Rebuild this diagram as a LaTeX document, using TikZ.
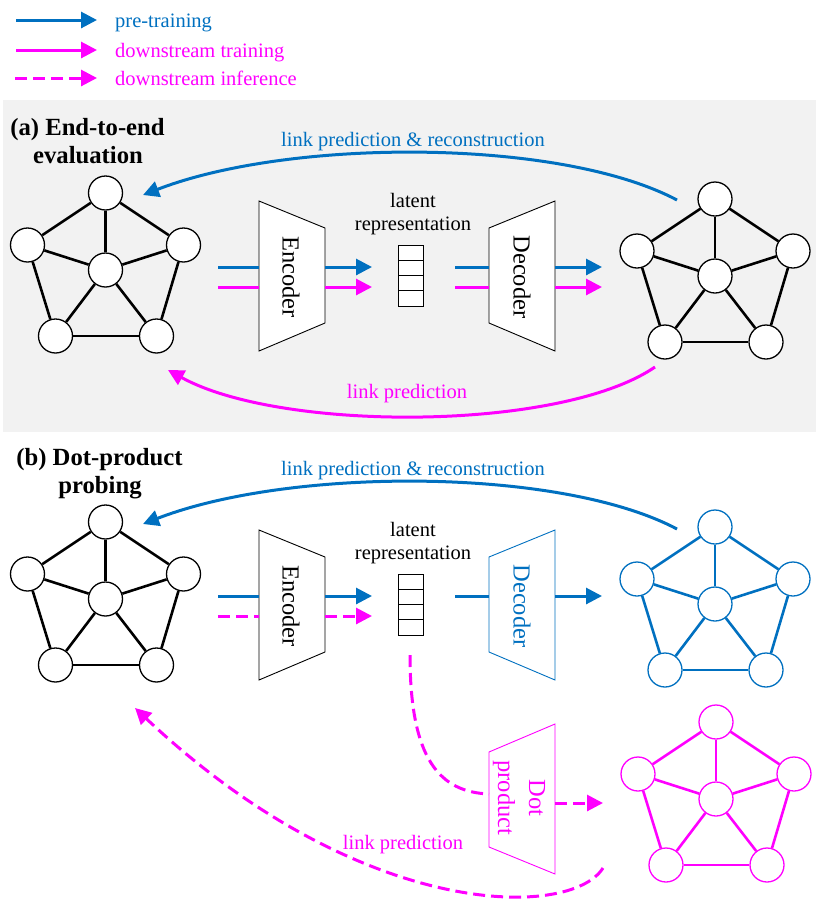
\documentclass[tikz,border=0pt]{standalone}
\usepackage{fontspec}
\setmainfont{Liberation Serif}
\usetikzlibrary{arrows.meta}
\definecolor{pblue}{RGB}{0,112,192}
\definecolor{pmag}{RGB}{255,0,255}
\definecolor{bggray}{RGB}{242,242,242}
\tikzset{
 gnode/.style={circle,draw,fill=white,minimum size=34pt,inner sep=0pt,line width=1.3pt},
 gedge/.style={line width=2.6pt},
 flow/.style={line width=3pt},
 tipflow/.style={flow,-{Triangle[length=16pt,width=16pt]}},
 dashflow/.style={dash pattern=on 12pt off 6pt},
 lbl/.style={font=\fontsize{20.5}{24}\selectfont, inner sep=0pt, anchor=base},
 ttl/.style={font=\fontsize{24.7}{28}\selectfont\bfseries, inner sep=0pt, anchor=base},
 boxtxt/.style={font=\fontsize{24.5}{29}\selectfont, inner sep=0pt, rotate=-90},
 trap/.style={draw, fill=white, line width=0.9pt},
}
\newcommand\drawgraph[4]{%
 \begin{scope}[shift={(#2,#3)}]
  \node[gnode,draw=#4] (#1t) at (0,0) {};
  \node[gnode,draw=#4] (#1l) at (-78,52) {};
  \node[gnode,draw=#4] (#1r) at (78,52) {};
  \node[gnode,draw=#4] (#1c) at (0,77) {};
  \node[gnode,draw=#4] (#1bl) at (-50,143) {};
  \node[gnode,draw=#4] (#1br) at (51,143) {};
  \draw[gedge,#4] (#1t) -- (#1l);
  \draw[gedge,#4] (#1t) -- (#1r);
  \draw[gedge,#4] (#1t) -- (#1c);
  \draw[gedge,#4] (#1l) -- (#1c);
  \draw[gedge,#4] (#1r) -- (#1c);
  \draw[gedge,#4] (#1l) -- (#1bl);
  \draw[gedge,#4] (#1r) -- (#1br);
  \draw[gedge,#4] (#1c) -- (#1bl);
  \draw[gedge,#4] (#1c) -- (#1br);
  \draw[gedge,#4] (#1bl) -- (#1br);
 \end{scope}}
\begin{document}
\begin{tikzpicture}[x=1pt,y=-1pt]
\useasboundingbox (0,0) rectangle (819,903);
\fill[bggray] (3,100) rectangle (816,432);

% legend
\coordinate (lg1a) at (16,20); \coordinate (lg1b) at (97,20);
\coordinate (lg2a) at (16,50); \coordinate (lg2b) at (97,50);
\coordinate (lg3a) at (15,78); \coordinate (lg3b) at (97,78);
\draw[tipflow,pblue] (lg1a) -- (lg1b);
\draw[tipflow,pmag] (lg2a) -- (lg2b);
\draw[tipflow,pmag,dashflow] (lg3a) -- (lg3b);
\node[lbl,anchor=base west,text=pblue] (lgt1) at (115,27) {pre-training};
\node[lbl,anchor=base west,text=pmag] (lgt2) at (115,57) {downstream training};
\node[lbl,anchor=base west,text=pmag] (lgt3) at (115,85) {downstream inference};

% ===== (a) =====
\node[ttl] (ta1) at (87.5,135) {(a) End-to-end};
\node[ttl] (ta2) at (88,163) {evaluation};

\drawgraph{al}{105.5}{193}{black}
\drawgraph{ar}{715}{199}{black}

% encoder
\draw[trap] (259,201) -- (325,228) -- (325,323) -- (259,351) -- cycle;
\node[boxtxt] (encA) at (291,277) {Encoder};
% decoder
\draw[trap] (489,228) -- (555,201) -- (555,351) -- (489,323) -- cycle;
\node[boxtxt] (decA) at (522,277) {Decoder};
% latent
\draw[line width=0.9pt,fill=white] (398,245) rectangle (423,306);
\draw[line width=0.9pt] (398,260.25) -- (423,260.25) (398,275.5) -- (423,275.5) (398,290.75) -- (423,290.75);
\node[lbl] (latA1) at (413,207) {latent};
\node[lbl] (latA2) at (413,230) {representation};

\coordinate (a1s) at (218,267); \coordinate (a1e) at (259,267);
\coordinate (a2s) at (325,267); \coordinate (a2e) at (372,267);
\coordinate (a3s) at (455,267); \coordinate (a3e) at (489,267);
\coordinate (a4s) at (555,267); \coordinate (a4e) at (602,267);
\coordinate (m1s) at (218,287); \coordinate (m1e) at (259,287);
\coordinate (m2s) at (325,287); \coordinate (m2e) at (372,287);
\coordinate (m3s) at (455,287); \coordinate (m3e) at (489,287);
\coordinate (m4s) at (555,287); \coordinate (m4e) at (602,287);
\draw[flow,pblue] (a1s) -- (a1e);
\draw[tipflow,pblue] (a2s) -- (a2e);
\draw[flow,pblue] (a3s) -- (a3e);
\draw[tipflow,pblue] (a4s) -- (a4e);
\draw[flow,pmag] (m1s) -- (m1e);
\draw[tipflow,pmag] (m2s) -- (m2e);
\draw[flow,pmag] (m3s) -- (m3e);
\draw[tipflow,pmag] (m4s) -- (m4e);

\coordinate (arcA1s) at (677,200); \coordinate (arcA1e) at (143,195);
\draw[tipflow,pblue] (arcA1s) .. controls (560,138) and (290,138) .. (arcA1e);
\node[lbl,text=pblue] (lpA1) at (413,146) {link prediction \& reconstruction};
\coordinate (arcA2s) at (655,367); \coordinate (arcA2e) at (168,370);
\draw[tipflow,pmag] (arcA2s) .. controls (560,432) and (280,432) .. (arcA2e);
\node[lbl,text=pmag] (lpA2) at (407,398) {link prediction};

% ===== (b) =====
\node[ttl] (tb1) at (99.5,465) {(b) Dot-product};
\node[ttl] (tb2) at (100,493) {probing};

\drawgraph{bl}{105.5}{522}{black}
\drawgraph{bb}{715}{527}{pblue}
\drawgraph{bm}{716}{722}{pmag}

\draw[trap] (259,530) -- (325,557) -- (325,652) -- (259,680) -- cycle;
\node[boxtxt] (encB) at (291,606) {Encoder};
\draw[trap,draw=pblue] (489,557) -- (555,530) -- (555,680) -- (489,652) -- cycle;
\node[boxtxt,text=pblue] (decB) at (522,606) {Decoder};
\draw[line width=0.9pt,fill=white] (398,574) rectangle (423,635);
\draw[line width=0.9pt] (398,589.25) -- (423,589.25) (398,604.5) -- (423,604.5) (398,619.75) -- (423,619.75);
\node[lbl] (latB1) at (413,536) {latent};
\node[lbl] (latB2) at (413,559) {representation};

% dot product
\draw[trap,draw=pmag] (489,752) -- (555,724) -- (555,874) -- (489,847) -- cycle;
\node[boxtxt,text=pmag] (dotB1) at (537,798) {Dot};
\node[boxtxt,text=pmag] (dotB2) at (504,798) {product};

\coordinate (b1s) at (218,596); \coordinate (b1e) at (259,596);
\coordinate (b2s) at (325,596); \coordinate (b2e) at (372,596);
\coordinate (b3s) at (455,596); \coordinate (b3e) at (489,596);
\coordinate (b4s) at (555,596); \coordinate (b4e) at (602,596);
\coordinate (n1s) at (218,616); \coordinate (n1e) at (259,616);
\coordinate (n2s) at (325,616); \coordinate (n2e) at (372,616);
\draw[flow,pblue] (b1s) -- (b1e);
\draw[tipflow,pblue] (b2s) -- (b2e);
\draw[flow,pblue] (b3s) -- (b3e);
\draw[tipflow,pblue] (b4s) -- (b4e);
\draw[flow,pmag,dashflow] (n1s) -- (n1e);
\draw[tipflow,pmag,dashflow] (n2s) -- (n2e);

\coordinate (ls) at (410,655); \coordinate (le) at (489,794);
\draw[flow,pmag,dashflow] (ls) .. controls (410,760) and (440,792) .. (le);
\coordinate (ds) at (555,803); \coordinate (de) at (603,803);
\draw[tipflow,pmag,dashflow] (ds) -- (de);

\coordinate (arcB1s) at (677,529); \coordinate (arcB1e) at (143,524);
\draw[tipflow,pblue] (arcB1s) .. controls (560,467) and (290,467) .. (arcB1e);
\node[lbl,text=pblue] (lpB1) at (413,475) {link prediction \& reconstruction};
\coordinate (arcB2s) at (603,868); \coordinate (arcB2e) at (135,708);
\draw[tipflow,pmag,dashflow] (arcB2s) .. controls (570,920) and (360,920) .. (arcB2e);
\node[lbl,text=pmag] (lpB2) at (403,849) {link prediction};
\end{tikzpicture}
\end{document}
